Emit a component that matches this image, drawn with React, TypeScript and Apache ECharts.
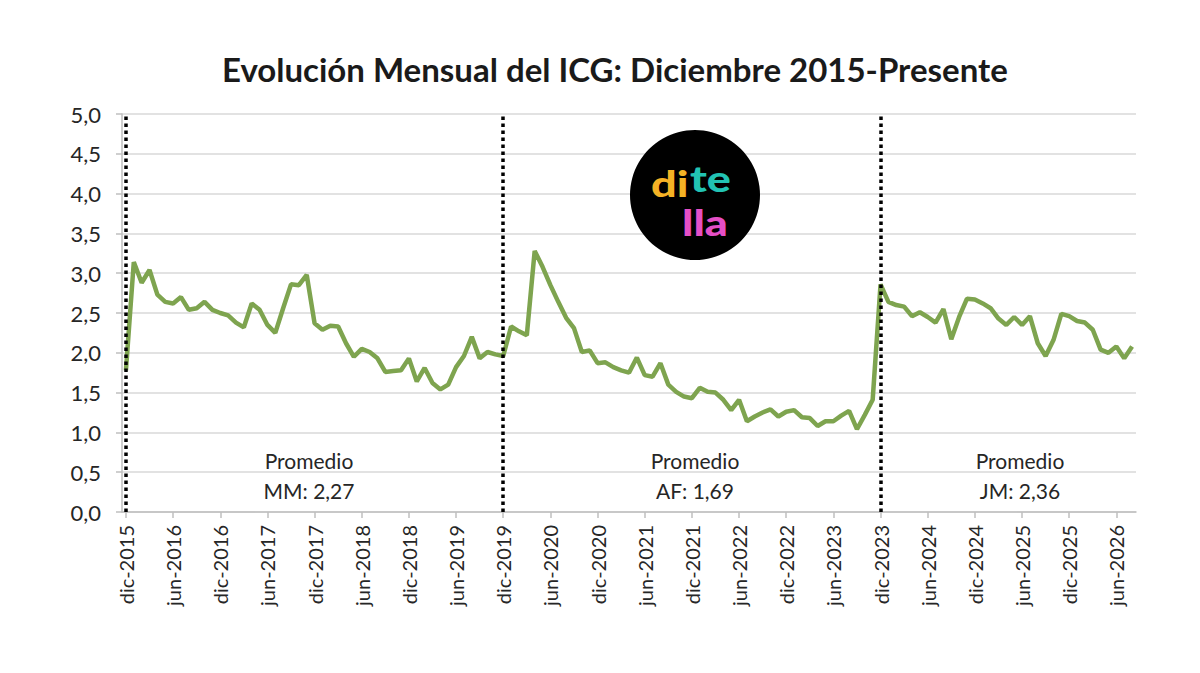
import React, { useEffect, useRef } from "react";
import * as echarts from "echarts";

const MONTHS = ["ene", "feb", "mar", "abr", "may", "jun", "jul", "ago", "sep", "oct", "nov", "dic"];
const START_YEAR = 2015;
const START_MONTH = 11; // dic

const ICG = [
  1.78, 3.14, 2.88, 3.04, 2.73, 2.64, 2.62, 2.70, 2.54, 2.56, 2.64, 2.54,
  2.50, 2.47, 2.38, 2.32, 2.62, 2.54, 2.35, 2.25, 2.56, 2.86, 2.85, 2.98,
  2.37, 2.29, 2.34, 2.33, 2.12, 1.95, 2.05, 2.01, 1.93, 1.76, 1.77, 1.78,
  1.93, 1.64, 1.81, 1.62, 1.54, 1.60, 1.82, 1.96, 2.20, 1.93, 2.01, 1.98,
  1.96, 2.33, 2.27, 2.22, 3.28, 3.08, 2.85, 2.64, 2.44, 2.31, 2.01, 2.03,
  1.87, 1.88, 1.82, 1.78, 1.75, 1.94, 1.72, 1.70, 1.87, 1.60, 1.51, 1.45,
  1.43, 1.56, 1.51, 1.50, 1.41, 1.28, 1.41, 1.14, 1.20, 1.25, 1.29, 1.20,
  1.26, 1.28, 1.19, 1.18, 1.08, 1.14, 1.14, 1.21, 1.27, 1.04, 1.22, 1.41,
  2.86, 2.64, 2.60, 2.58, 2.46, 2.51, 2.45, 2.38, 2.55, 2.17, 2.45, 2.68,
  2.67, 2.62, 2.56, 2.43, 2.35, 2.45, 2.35, 2.46, 2.12, 1.96, 2.16, 2.49,
  2.46, 2.40, 2.38, 2.29, 2.04, 2.00, 2.08, 1.93, 2.08,
];

const CATEGORIES = ICG.map((_, i) => {
  const k = START_MONTH + i;
  return `${MONTHS[k % 12]}-${START_YEAR + Math.floor(k / 12)}`;
});

const PERIOD_MARKS = ["dic-2015", "dic-2019", "dic-2023"];
const AVG_LABELS = ["MM: 2,27", "AF: 1,69", "JM: 2,36"];
const AVG_X = [309, 695, 1020];

const TITLE = "Evolución Mensual del ICG: Diciembre 2015-Presente";

export default function App() {
  const ref = useRef<HTMLDivElement>(null);

  useEffect(() => {
    document.body.style.margin = "0";
    if (!ref.current) return;
    const chart = echarts.init(ref.current, null, { renderer: "svg" });
    const textColor = "#262626";
    const avgTexts: any[] = [];
    AVG_LABELS.forEach((t, i) => {
      avgTexts.push({
        type: "text",
        x: AVG_X[i],
        y: 460,
        style: { text: "Promedio", fill: textColor, font: "21px Lato", textAlign: "center", textVerticalAlign: "middle" },
      });
      avgTexts.push({
        type: "text",
        x: AVG_X[i],
        y: 490,
        style: { text: t, fill: textColor, font: "21px Lato", textAlign: "center", textVerticalAlign: "middle" },
      });
    });

    const logoFont = "900 36px Lato";
    const logoPart = (text: string, x: number, y: number, fill: string) => ({
      type: "text",
      z: 101,
      x,
      y,
      scaleX: 1.25,
      style: { text, font: logoFont, fill, textAlign: "left", textVerticalAlign: "middle" },
    });

    chart.setOption({
      animation: false,
      backgroundColor: "#ffffff",
      title: {
        text: TITLE,
        left: 217,
        top: 47,
        textStyle: { fontFamily: "Lato", fontWeight: "bold", fontSize: 33, color: "#1a1a1a" },
      },
      grid: { left: 122, right: 64, top: 114, bottom: 161, containLabel: false },
      xAxis: {
        type: "category",
        data: CATEGORIES,
        boundaryGap: true,
        axisLine: { show: true, lineStyle: { color: "#bfbfbf", width: 1.5 } },
        axisTick: { show: true, interval: 5, alignWithLabel: true, length: 6, lineStyle: { color: "#bfbfbf", width: 1.5 } },
        axisLabel: {
          interval: 5,
          rotate: 90,
          margin: 13,
          fontFamily: "Lato",
          fontSize: 20,
          color: textColor,
        },
        splitLine: { show: false },
      },
      yAxis: {
        type: "value",
        min: 0,
        max: 5,
        interval: 0.5,
        axisLine: { show: true, lineStyle: { color: "#bfbfbf", width: 1.5 } },
        axisTick: { show: true, length: 6, lineStyle: { color: "#bfbfbf", width: 1.5 } },
        axisLabel: {
          fontFamily: "Lato",
          fontSize: 22,
          color: textColor,
          margin: 21,
          formatter: (v: number) => v.toFixed(1).replace(".", ","),
        },
        splitLine: { show: true, lineStyle: { color: "#d9d9d9", width: 1.5 } },
      },
      series: [
        {
          type: "line",
          data: ICG,
          showSymbol: false,
          symbol: "none",
          lineStyle: { color: "#7ea44f", width: 4.5 },
          markLine: {
            silent: true,
            symbol: ["none", "none"],
            label: { show: false },
            lineStyle: { color: "#000000", width: 3.5, type: [3.5, 3.5] },
            data: PERIOD_MARKS.map((m) => ({ xAxis: m })),
          },
          z: 3,
        },
      ],
      graphic: [
        ...avgTexts,
        {
          type: "group",
          x: 695,
          y: 195,
          z: 100,
          children: [
            { type: "circle", z: 100, shape: { cx: 0, cy: 0, r: 65 }, style: { fill: "#000000" } },
            logoPart("di", -44, -12, "#f5b225"),
            logoPart("te", -5, -17, "#22c3b3"),
            logoPart("lla", -13, 27, "#e54fc6"),
          ],
        },
      ],
    });
    return () => chart.dispose();
  }, []);

  return <div ref={ref} style={{ width: 1200, height: 673 }} />;
}
